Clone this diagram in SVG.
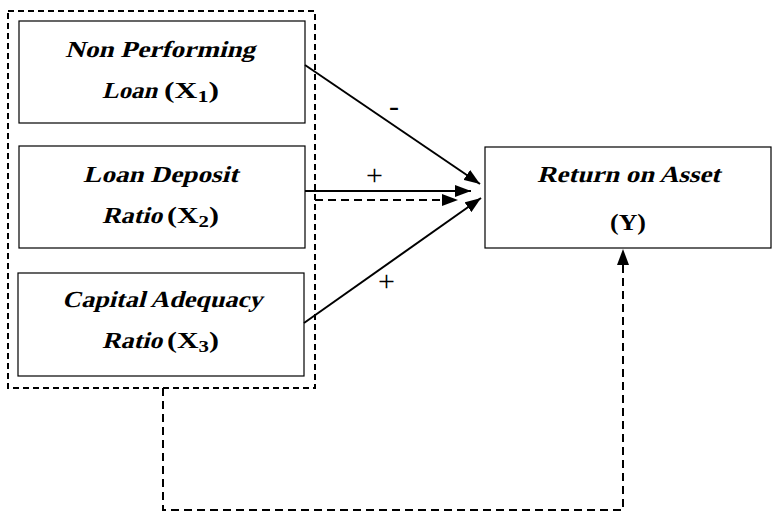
<svg xmlns="http://www.w3.org/2000/svg" width="772" height="516" viewBox="0 0 772 516">
<style>
.box{fill:#fff;stroke:#000;stroke-width:1.2}
.grp{fill:none;stroke:#000;stroke-width:2;stroke-dasharray:6 4}
.t{font-family:'Liberation Serif','Times New Roman',serif;font-size:23px;font-weight:700;fill:#000}
.m{text-anchor:middle}
.sub{font-size:16px}
.c{fill:none;stroke:#000;stroke-width:2}
.d{stroke-dasharray:8 5}
.lbl{font-family:'Liberation Serif','Times New Roman',serif;font-size:30px;text-anchor:middle;fill:#000}
</style>
<defs>
<marker id="a" viewBox="0 0 16 12" refX="16" refY="6" markerWidth="16" markerHeight="12" markerUnits="userSpaceOnUse" orient="auto">
<path d="M0,0 L16,6 L0,12 Z" fill="#000"/>
</marker>
</defs>
<rect class="grp" x="8" y="11" width="307" height="377"/>
<g id="x1">
<rect class="box" x="19" y="21" width="286" height="102"/>
<text class="t m" transform="translate(160,57) skewX(-15)" textLength="190" lengthAdjust="spacingAndGlyphs">Non Performing</text>
<text class="t" transform="translate(102,98) skewX(-15)" textLength="55" lengthAdjust="spacingAndGlyphs">Loan</text>
<text class="t" x="164" y="98" textLength="55" lengthAdjust="spacingAndGlyphs">(X<tspan class="sub" dy="4">1</tspan><tspan dy="-4">)</tspan></text>
</g>
<g id="x2">
<rect class="box" x="19" y="146" width="286" height="102"/>
<text class="t m" transform="translate(160.5,182) skewX(-15)" textLength="155" lengthAdjust="spacingAndGlyphs">Loan Deposit</text>
<text class="t" transform="translate(102,223) skewX(-15)" textLength="60" lengthAdjust="spacingAndGlyphs">Ratio</text>
<text class="t" x="167" y="223" textLength="52" lengthAdjust="spacingAndGlyphs">(X<tspan class="sub" dy="4">2</tspan><tspan dy="-4">)</tspan></text>
</g>
<g id="x3">
<rect class="box" x="18" y="273" width="286" height="103"/>
<text class="t m" transform="translate(162,307) skewX(-15)" textLength="200" lengthAdjust="spacingAndGlyphs">Capital Adequacy</text>
<text class="t" transform="translate(102,348) skewX(-15)" textLength="60" lengthAdjust="spacingAndGlyphs">Ratio</text>
<text class="t" x="167" y="348" textLength="52" lengthAdjust="spacingAndGlyphs">(X<tspan class="sub" dy="4">3</tspan><tspan dy="-4">)</tspan></text>
</g>
<g id="y">
<rect class="box" x="485" y="147" width="286" height="101"/>
<text class="t m" transform="translate(628.5,182) skewX(-15)" textLength="183" lengthAdjust="spacingAndGlyphs">Return on Asset</text>
<text class="t m" x="628" y="230" textLength="36" lengthAdjust="spacingAndGlyphs">(Y)</text>
</g>
<g id="connectors">
<line class="c" x1="305" y1="65" x2="480" y2="184" marker-end="url(#a)"/>
<line class="c" x1="305" y1="191" x2="471" y2="191" marker-end="url(#a)"/>
<line class="c d" x1="315" y1="200" x2="458" y2="200" marker-end="url(#a)"/>
<line class="c" x1="304" y1="323" x2="481" y2="198" marker-end="url(#a)"/>
<polyline class="c d" points="163,388 163,510 623,510 623,249" marker-end="url(#a)"/>
<text class="lbl" x="394" y="116">-</text>
<text class="lbl" x="374.5" y="185">+</text>
<text class="lbl" x="386.5" y="291">+</text>
</g>
</svg>
